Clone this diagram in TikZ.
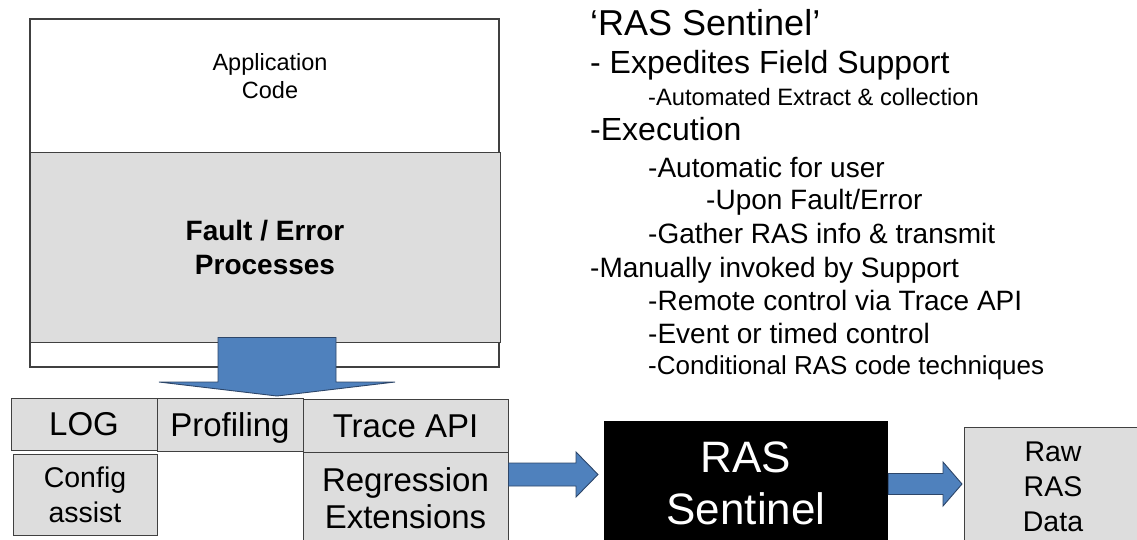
\documentclass[tikz,border=0pt]{standalone}
\usepackage{fontspec}
\setmainfont{Liberation Sans}
\usetikzlibrary{calc}

\definecolor{boxgray}{RGB}{221,221,221}
\definecolor{linegray}{RGB}{64,64,64}
\definecolor{arrowblue}{RGB}{79,129,189}
\definecolor{arrowline}{RGB}{45,70,105}

\begin{document}
\begin{tikzpicture}[x=1pt, y=-1pt,
    box/.style={draw=linegray, fill=boxgray, line width=0.9pt, inner sep=0pt, align=center},
    oneline/.style={text height=23.6pt, text depth=0pt},
    blockarrow/.style={draw=arrowline, fill=arrowblue, line width=0.9pt},
    item/.style={anchor=base west, inner sep=0pt},
    txtbig/.style={font=\fontsize{33}{37}\selectfont},
    txtmid/.style={font=\fontsize{28.5}{35}\selectfont},
    txtsub/.style={font=\fontsize{28}{28}\selectfont}]

    \useasboundingbox (0,0) rectangle (1137,539);

    \node [box, fill=white, line width=1.2pt, minimum width=469pt, minimum height=348pt] (app) at (264.5,193) {};
    \node [align=center, font=\fontsize{23.5}{28}\selectfont] (appcode) at (270,76) {Application\\Code};
    \node [box, minimum width=470pt, minimum height=190pt, font=\bfseries\fontsize{28}{34}\selectfont] (fault) at (265,247) {Fault / Error\\Processes};

    \node [box, txtbig, oneline, minimum width=146pt, minimum height=52pt] (log) at (84,424) {LOG};
    \node [box, txtbig, oneline, minimum width=146pt, minimum height=53pt] (prof) at (230,424.5) {Profiling};
    \node [box, txtbig, oneline, minimum width=205pt, minimum height=53pt] (trace) at (405.5,425.5) {Trace API};
    \node [box, txtmid, minimum width=144pt, minimum height=81pt] (config) at (85,494.5) {Config\\assist};
    \node [box, txtbig, minimum width=205pt, minimum height=93pt] (regr) at (405.5,498.5) {Regression\\Extensions};
    \node [fill=black, text=white, inner sep=0pt, align=center, minimum width=284pt, minimum height=124pt, font=\fontsize{44}{52}\selectfont] (sentinel) at (746,483) {RAS\\Sentinel};
    \node [box, txtmid, minimum width=178pt, minimum height=120pt] (rawdata) at (1053,487) {Raw\\RAS\\Data};

    \coordinate (tipdown) at (277,396);
    \coordinate (tipsent) at (598,474.5);
    \coordinate (tipraw) at (962,484);

    \draw [blockarrow] ($(fault.south -| tipdown)+(-59,-5)$) -- ($(fault.south -| tipdown)+(59,-5)$)
        -- ($(tipdown)+(59,-14)$) -- ($(tipdown)+(118,-14)$) -- (tipdown)
        -- ($(tipdown)+(-118,-14)$) -- ($(tipdown)+(-59,-14)$) -- cycle;
    \draw [blockarrow] ($(regr.east |- tipsent)+(0,-11.5)$) -- ($(tipsent)+(-22,-11.5)$)
        -- ($(tipsent)+(-22,-22.5)$) -- (tipsent) -- ($(tipsent)+(-22,22.5)$)
        -- ($(tipsent)+(-22,11.5)$) -- ($(regr.east |- tipsent)+(0,11.5)$) -- cycle;
    \draw [blockarrow] ($(sentinel.east |- tipraw)+(0,-10.5)$) -- ($(tipraw)+(-19,-10.5)$)
        -- ($(tipraw)+(-19,-22)$) -- (tipraw) -- ($(tipraw)+(-19,22)$)
        -- ($(tipraw)+(-19,10.5)$) -- ($(sentinel.east |- tipraw)+(0,10.5)$) -- cycle;

    \node [item, font=\fontsize{36}{36}\selectfont] (title) at (590,35) {‘RAS Sentinel’};
    \node [item, font=\fontsize{32}{32}\selectfont] (field) at (590,73) {- Expedites Field Support};
    \node [item, font=\fontsize{23.7}{24}\selectfont] (extract) at (648,105) {-Automated Extract \& collection};
    \node [item, font=\fontsize{32}{32}\selectfont] (exec) at (590,140) {-Execution};
    \node [item, txtsub] (auto) at (648,177) {-Automatic for user};
    \node [item, txtsub] (upon) at (706,209) {-Upon Fault/Error};
    \node [item, txtsub] (gather) at (648,243) {-Gather RAS info \& transmit};
    \node [item, txtsub] (manual) at (590,277) {-Manually invoked by Support};
    \node [item, txtsub] (remote) at (648,310) {-Remote control via Trace API};
    \node [item, txtsub] (event) at (648,343) {-Event or timed control};
    \node [item, font=\fontsize{26}{26}\selectfont] (cond) at (648,374) {-Conditional RAS code techniques};

\end{tikzpicture}
\end{document}
